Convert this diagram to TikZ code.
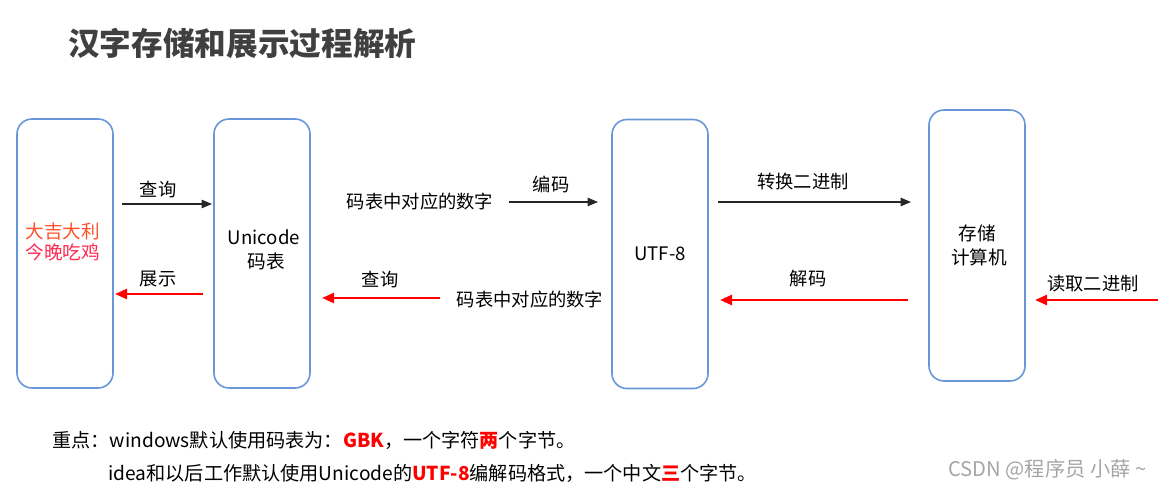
\documentclass[tikz,border=0pt]{standalone}
\usepackage{fontspec}
\setmainfont{Noto Sans CJK SC}
\usetikzlibrary{arrows.meta,positioning}
\definecolor{boxblue}{RGB}{104,150,218}
\definecolor{inkgray}{RGB}{64,64,64}
\definecolor{hotred}{RGB}{255,0,0}
\definecolor{luckorange}{RGB}{255,80,40}
\definecolor{luckpink}{RGB}{255,40,80}
\definecolor{markgray}{RGB}{165,165,165}
\tikzset{
  stage/.style={draw=boxblue,line width=0.9pt,rounded corners=3mm,
    minimum width=19.2mm,minimum height=53.8mm,align=center,
    font=\fontsize{10.6}{13.6}\selectfont},
  stagetext/.style={align=center,inner sep=0pt,font=\fontsize{10.6}{13.6}\selectfont},
  lbl/.style={font=\fontsize{10.4}{12}\selectfont,inner sep=0pt},
  fwd/.style={draw=black!85,line width=0.7pt,-{Triangle[length=2.1mm,width=1.7mm]}},
  back/.style={draw=hotred,line width=1.4pt,-{Triangle[length=2.4mm,width=2mm]}},
  note/.style={font=\fontsize{10.9}{12}\selectfont,anchor=west,inner sep=0pt},
}
\begin{document}
\begin{tikzpicture}[x=0.2mm,y=-0.2mm]
  \useasboundingbox (0,0) rectangle (1173,490);
  % title
  \node[font=\fontsize{18}{20}\selectfont\bfseries,text=inkgray,anchor=west,inner sep=0pt] (title) at (68,43) {汉字存储和展示过程解析};
  % the four stages
  \node[stage] (luck) at (65,253.5) {};
  \node[stagetext] (luckt) at (63,242) {\textcolor{luckorange}{大吉大利}\\[-1.5pt]\textcolor{luckpink}{今晚吃鸡}};
  \node[stage] (uni) at (262,253.5) {};
  \node[stagetext] (unit) at (264,250) {Unicode\\\ 码表};
  \node[stage] (utf) at (660,254) {UTF-8};
  \node[stage,minimum height=54.2mm] (disk) at (977,245.5) {存储\\\ 计算机};
  % ends of the free arrows
  \coordinate (q1s) at (122,204);  \coordinate (q1e) at (212,204);
  \coordinate (s1s) at (203,294);  \coordinate (s1e) at (115,294);
  \coordinate (e1s) at (509,202);  \coordinate (e1e) at (598,202);
  \coordinate (q2s) at (440,298);  \coordinate (q2e) at (322,298);
  \coordinate (t1s) at (718,202);  \coordinate (t1e) at (911,202);
  \coordinate (d1s) at (908,300);  \coordinate (d1e) at (720,300);
  \coordinate (r1s) at (1158,300); \coordinate (r1e) at (1035,300);
  % upper row: look-up and encode
  \draw[fwd] (q1s) -- (q1e);
  \node[lbl] (q1) at (158,190) {查询};
  \node[lbl] (num1) at (420,202) {码表中对应的数字};
  \draw[fwd] (e1s) -- (e1e);
  \node[lbl] (enc) at (551,184) {编码};
  \draw[fwd] (t1s) -- (t1e);
  \node[lbl] (bin) at (803,182) {转换二进制};
  % lower row: read back and show
  \draw[back] (r1s) -- (r1e);
  \node[lbl] (rd) at (1093,284) {读取二进制};
  \draw[back] (d1s) -- (d1e);
  \node[lbl] (dec) at (808,279) {解码};
  \node[lbl] (num2) at (530,300) {码表中对应的数字};
  \draw[back] (q2s) -- (q2e);
  \node[lbl] (q2) at (380,280) {查询};
  \draw[back] (s1s) -- (s1e);
  \node[lbl] (show) at (158,279) {展示};
  % notes
  \node[note] (n1) at (52,440) {重点：windows默认使用码表为：\textcolor{hotred}{\bfseries GBK}，一个字符\textcolor{hotred}{\bfseries 两}个字节。};
  \node[note] (n2) at (108,473) {idea和以后工作默认使用Unicode的\textcolor{hotred}{\bfseries UTF-8}编解码格式，一个中文\textcolor{hotred}{\bfseries 三}个字节。};
  \node[note,text=markgray,font=\fontsize{11.5}{13}\selectfont] (mark) at (948,470) {CSDN @程序员 小薛 \textasciitilde};
\end{tikzpicture}
\end{document}
